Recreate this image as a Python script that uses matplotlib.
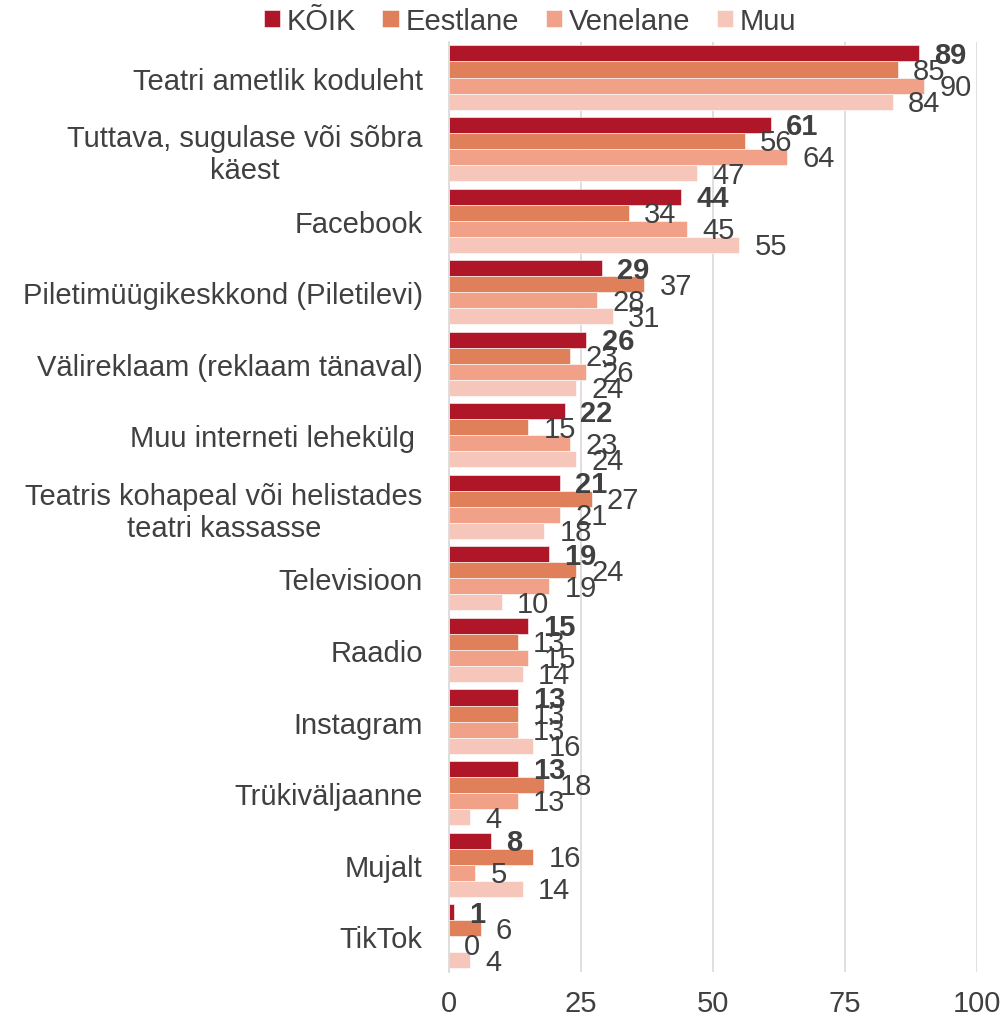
import numpy as np
import matplotlib.pyplot as plt

plt.rcParams['font.family'] = ['Liberation Sans', 'DejaVu Sans']

categories = [
    "Teatri ametlik koduleht",
    "Tuttava, sugulase või sõbra\nkäest",
    "Facebook",
    "Piletimüügikeskkond (Piletilevi)",
    "Välireklaam (reklaam tänaval)",
    "Muu interneti lehekülg ",
    "Teatris kohapeal või helistades\nteatri kassasse",
    "Televisioon",
    "Raadio",
    "Instagram",
    "Trükiväljaanne",
    "Mujalt",
    "TikTok",
]
series_names = ["KÕIK", "Eestlane", "Venelane", "Muu"]
koik = [89, 61, 44, 29, 26, 22, 21, 19, 15, 13, 13, 8, 1]
eestlane = [85, 56, 34, 37, 23, 15, 27, 24, 13, 13, 18, 16, 6]
venelane = [90, 64, 45, 28, 26, 23, 21, 19, 15, 13, 13, 5, 0]
muu = [84, 47, 55, 31, 24, 24, 18, 10, 14, 16, 4, 14, 4]
x_ticks = [0, 25, 50, 75, 100]

colors = ["#AF1729", "#E0805A", "#F1A188", "#F6C6BB"]
txt = "#404040"
fs = 21

fig = plt.figure(figsize=(10.07, 10.20), dpi=100)
ax = fig.add_axes([0.4459, 0.0461, 0.5243, 0.912])

n = len(categories)
ypos = np.arange(n)
h = 0.224
all_series = [koik, eestlane, venelane, muu]
for i, (name, vals, c) in enumerate(zip(series_names, all_series, colors)):
    yy = ypos - 1.5 * h + i * h
    ax.barh(yy, vals, height=h, color=c, label=name, edgecolor="white", linewidth=0.4)
    for y, v in zip(yy, vals):
        ax.annotate(str(v), (v, y), xytext=(11, -1), textcoords="offset points",
                    ha="left", va="center", fontsize=fs, color=txt,
                    fontweight="bold" if i == 0 else "normal")

ax.set_ylim(n - 0.5, -0.5)
ax.set_xlim(0, 100)
ax.set_xticks(x_ticks)
ax.set_yticks(ypos)
ax.set_yticklabels(categories, multialignment="center")
ax.tick_params(axis="both", length=0, labelsize=fs, colors=txt)
ax.tick_params(axis="y", pad=19)
ax.tick_params(axis="x", pad=12)
ax.grid(axis="x", color="#D9D9D9", linewidth=1.2)
ax.set_axisbelow(True)
for s in ["top", "right", "bottom"]:
    ax.spines[s].set_visible(False)
ax.spines["left"].set_color("#D9D9D9")
ax.spines["left"].set_linewidth(1.2)

fig.legend(loc="center", bbox_to_anchor=(530 / 1007, 1 - 22 / 1020), ncol=4,
           frameon=False, fontsize=fs, handlelength=0.55, handleheight=0.55,
           handletextpad=0.25, columnspacing=0.9, labelcolor=txt)

fig.savefig("out.png", dpi=100)
